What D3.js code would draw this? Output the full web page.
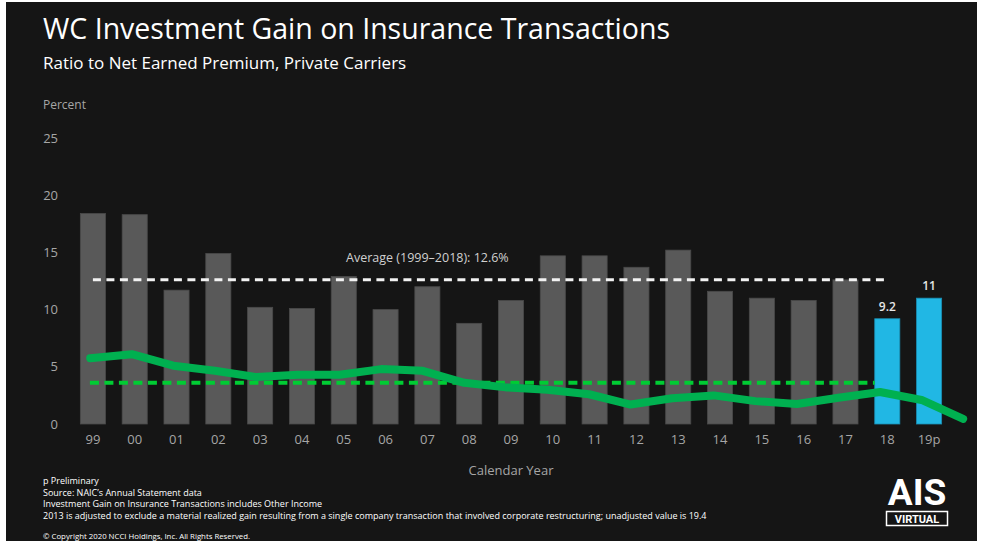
<!DOCTYPE html>
<meta charset="utf-8">
<style>
body { margin: 0; background: #fff; }
text { font-family: "Open Sans", sans-serif; }
.tick text { fill: #a6a6a6; font-size: 13px; }
.note { fill: #ffffff; font-size: 9px; }
</style>
<body>
<div id="chart"></div>
<script src="https://cdn.jsdelivr.net/npm/d3@7"></script>
<script>
// ---- data ----
const years = ["99","00","01","02","03","04","05","06","07","08","09",
               "10","11","12","13","14","15","16","17","18","19p"];
const gain = [18.4, 18.3, 11.7, 14.9, 10.2, 10.1, 12.9, 10.0, 12.0, 8.8, 10.8,
              14.7, 14.7, 13.7, 15.2, 11.6, 11.0, 10.8, 12.6, 9.2, 11.0];
const highlighted = ["18", "19p"];
const labels = {"18": "9.2", "19p": "11"};
// green line has one extra point past 19p
const greenLine = [5.75, 6.1, 5.1, 4.65, 4.1, 4.3, 4.3, 4.8, 4.65, 3.6, 3.2,
                   3.0, 2.6, 1.7, 2.25, 2.5, 2.0, 1.75, 2.3, 2.8, 2.1, 0.45];
const average = 12.6;
const greenAvg = 3.6;
const yTicks = [0, 5, 10, 15, 20, 25];
const notes = [
  "p Preliminary",
  "Source: NAIC\u2019s Annual Statement data",
  "Investment Gain on Insurance Transactions includes Other Income",
  "2013 is adjusted to exclude a material realized gain resulting from a single company transaction that involved corporate restructuring; unadjusted value is 19.4"
];

const W = 983, H = 547;
const svg = d3.select("#chart").append("svg")
    .attr("width", W).attr("height", H);

// dark panel
svg.append("rect").attr("x", 6).attr("y", 2)
    .attr("width", 971).attr("height", 539).attr("fill", "#151515");

// scales
const x = d3.scaleBand().domain(years).range([72, 950])
    .paddingInner(0.4).paddingOuter(0.2);
const y = d3.scaleLinear().domain([0, 25]).range([424, 138]);
const xc = d => x(d) + x.bandwidth() / 2;
const lineX = d3.scaleLinear().domain([0, years.length - 1])
    .range([xc(years[0]) - 0.065 * x.step(), xc(years[years.length - 1]) - 0.18 * x.step()]);

// titles
svg.append("text").attr("x", 43).attr("y", 39)
    .attr("fill", "#fff").style("font-size", "28.5px")
    .text("WC Investment Gain on Insurance Transactions");
svg.append("text").attr("x", 43).attr("y", 69)
    .attr("fill", "#fff").style("font-size", "17px")
    .text("Ratio to Net Earned Premium, Private Carriers");
svg.append("text").attr("x", 43).attr("y", 109)
    .attr("fill", "#a6a6a6").style("font-size", "12px")
    .text("Percent");

// y axis
const yAxis = svg.append("g").attr("transform", "translate(58,0)")
    .call(d3.axisLeft(y).tickValues(yTicks).tickSize(0).tickPadding(0));
yAxis.select(".domain").remove();

// x axis
const xAxis = svg.append("g").attr("transform", "translate(0,432)")
    .call(d3.axisBottom(x).tickSize(0).tickPadding(3));
xAxis.select(".domain").remove();

svg.append("text").attr("x", xc("09")).attr("y", 475)
    .attr("text-anchor", "middle").attr("fill", "#a6a6a6")
    .style("font-size", "13px").text("Calendar Year");

// bars
svg.append("g").selectAll("rect")
  .data(years)
  .join("rect")
    .attr("x", d => x(d))
    .attr("y", (d, i) => y(gain[i]))
    .attr("width", x.bandwidth())
    .attr("height", (d, i) => y(0) - y(gain[i]))
    .attr("fill", d => highlighted.includes(d) ? "#21b7e4" : "#595959")
    .attr("stroke", d => highlighted.includes(d) ? "#1a8fb4" : "#4a4a4a")
    .attr("stroke-width", 0.8);

// bar labels
svg.append("g").selectAll("text")
  .data(highlighted)
  .join("text")
    .attr("x", d => xc(d))
    .attr("y", d => y(gain[years.indexOf(d)]) - 8)
    .attr("text-anchor", "middle").attr("fill", "#e6e6e6")
    .style("font-size", "12px").style("font-weight", "600")
    .text(d => labels[d]);

// average lines
svg.append("line")
    .attr("x1", xc("99")).attr("x2", xc("18"))
    .attr("y1", y(average)).attr("y2", y(average))
    .attr("stroke", "#f2f2f2").attr("stroke-width", 3)
    .attr("stroke-dasharray", "8,5.5");
svg.append("text").attr("x", xc("07")).attr("y", y(average) - 18)
    .attr("text-anchor", "middle").attr("fill", "#d0d0d0")
    .style("font-size", "12.5px")
    .text("Average (1999\u20132018): 12.6%");

svg.append("line")
    .attr("x1", xc("99") - 3).attr("x2", x("18"))
    .attr("y1", y(greenAvg)).attr("y2", y(greenAvg))
    .attr("stroke", "#00cc33").attr("stroke-width", 4)
    .attr("stroke-dasharray", "9,5.5");

// green line
svg.append("path")
    .datum(greenLine)
    .attr("fill", "none").attr("stroke", "#00b050")
    .attr("stroke-width", 8).attr("stroke-linecap", "round")
    .attr("stroke-linejoin", "round")
    .attr("d", d3.line().x((d, i) => lineX(i)).y(d => y(d)));

// notes
svg.append("g").selectAll("text")
  .data(notes)
  .join("text")
    .attr("class", "note")
    .attr("x", 43)
    .attr("y", (d, i) => 484 + i * 11.6)
    .text(d => d);
svg.append("text").attr("class", "note").attr("x", 43).attr("y", 539)
    .style("font-size", "7.8px")
    .text("\u00a9 Copyright 2020 NCCI Holdings, Inc. All Rights Reserved.");

// logo
svg.append("text").attr("x", 917).attr("y", 505)
    .attr("text-anchor", "middle").attr("fill", "#fff")
    .style("font-size", "37px").style("font-weight", "bold")
    .style("font-family", "Roboto, sans-serif")
    .text("AIS");
svg.append("rect").attr("x", 886.5).attr("y", 511.5)
    .attr("width", 61).attr("height", 14)
    .attr("fill", "none").attr("stroke", "#fff").attr("stroke-width", 1.5);
svg.append("text").attr("x", 917).attr("y", 523)
    .attr("text-anchor", "middle").attr("fill", "#fff")
    .style("font-size", "11px").style("font-weight", "bold")
    .style("font-family", "Roboto, sans-serif")
    .text("VIRTUAL");
</script>
</body>
